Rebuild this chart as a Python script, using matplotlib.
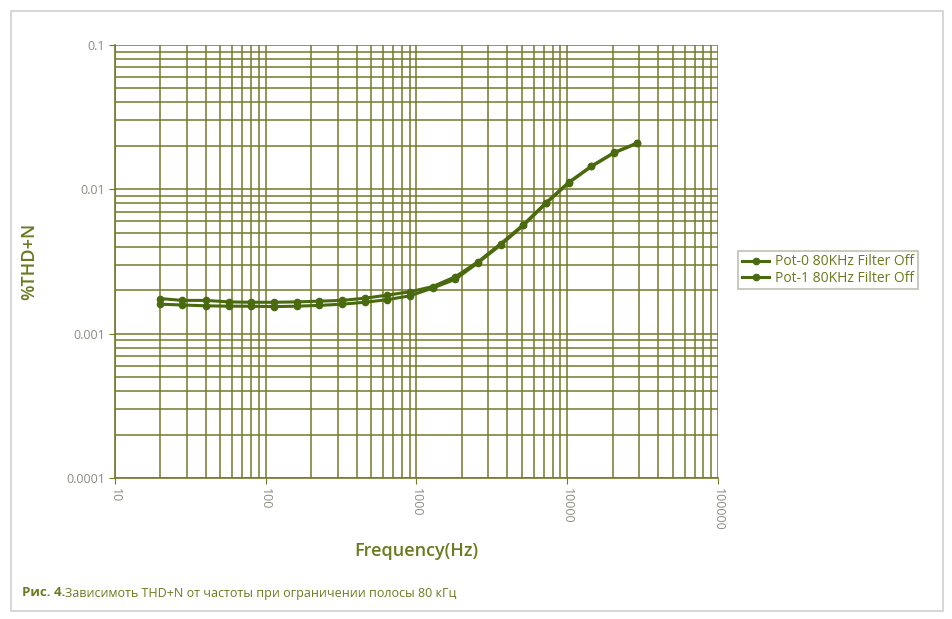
import matplotlib
matplotlib.use("Agg")
import matplotlib.pyplot as plt
from matplotlib.patches import Rectangle
from matplotlib.ticker import LogLocator, FixedLocator, NullFormatter

plt.rcParams["font.family"] = ["Open Sans", "DejaVu Sans"]

# frequency sweep points (Hz)
freq = [20, 28, 40, 57, 80, 113, 160, 226, 320, 453, 640, 905,
        1280, 1810, 2560, 3620, 5120, 7240, 10240, 14480, 20480, 28960]

# %THD+N readings
pot0 = [0.00175, 0.0017, 0.0017, 0.00166, 0.00165, 0.00165, 0.00166, 0.00168,
        0.0017, 0.00176, 0.00185, 0.00195, 0.00212, 0.00248, 0.00315, 0.0042,
        0.0057, 0.0081, 0.0112, 0.0145, 0.0180, 0.0209]
pot1 = [0.0016, 0.00158, 0.00156, 0.00155, 0.00155, 0.00154, 0.00155, 0.00157,
        0.0016, 0.00165, 0.00172, 0.00183, 0.00207, 0.00238, 0.0031, 0.00412,
        0.00562, 0.008, 0.0111, 0.0144, 0.0179, 0.0208]

series_labels = ["Pot-0 80KHz Filter Off", "Pot-1 80KHz Filter Off"]
x_ticks = [10, 100, 1000, 10000, 100000]
x_tick_labels = ["10", "100", "1000", "10000", "100000"]
y_ticks = [0.0001, 0.001, 0.01, 0.1]
y_tick_labels = ["0.0001", "0.001", "0.01", "0.1"]

GRID = "#74792a"
LINE = "#4a6a10"
TEXT = "#6a7a1e"
TICK = "#8c8c80"

fig = plt.figure(figsize=(9.53, 6.19), dpi=100)
ax = fig.add_axes([115 / 953, 1 - 478 / 619, 603 / 953, 433 / 619])

ax.plot(freq, pot0, color=LINE, lw=2.2, marker="o", ms=4.5, label=series_labels[0])
ax.plot(freq, pot1, color=LINE, lw=2.2, marker="o", ms=4.5, label=series_labels[1])

ax.set_xscale("log")
ax.set_yscale("log")
ax.set_xlim(10, 100000)
ax.set_ylim(0.0001, 0.1)

ax.xaxis.set_major_locator(FixedLocator(x_ticks))
ax.yaxis.set_major_locator(FixedLocator(y_ticks))
ax.set_xticklabels(x_tick_labels, rotation=-90, color=TICK, fontsize=9)
ax.set_yticklabels(y_tick_labels, color=TICK, fontsize=9)
ax.xaxis.set_minor_locator(LogLocator(base=10, subs=range(2, 10), numticks=20))
ax.yaxis.set_minor_locator(LogLocator(base=10, subs=range(2, 10), numticks=20))
ax.xaxis.set_minor_formatter(NullFormatter())
ax.yaxis.set_minor_formatter(NullFormatter())
ax.tick_params(which="minor", length=0)
ax.tick_params(which="major", length=4, color=GRID, pad=3)

ax.grid(True, which="both", color=GRID, lw=1.1)
ax.set_axisbelow(True)
for side in ["top", "right"]:
    ax.spines[side].set_visible(False)
for side in ["left", "bottom"]:
    ax.spines[side].set_color(GRID)
    ax.spines[side].set_linewidth(1.2)

ax.set_xlabel("Frequency(Hz)", color=TEXT, fontsize=13, fontweight="semibold",
              labelpad=8)
ax.set_ylabel("%THD+N", color=TEXT, fontsize=13, fontweight="semibold",
              labelpad=20)

leg = ax.legend(loc="center left", bbox_to_anchor=(1.022, 0.48), fontsize=10,
                frameon=True, fancybox=False, handlelength=2.0,
                borderpad=0.25, labelspacing=0.1, handletextpad=0.4)
leg.get_frame().set_edgecolor("#b0b0a0")
leg.get_frame().set_linewidth(1.2)
for t in leg.get_texts():
    t.set_color(TEXT)

# outer frame
fig.patches.append(Rectangle((11 / 953, 8 / 619), 932 / 953, 600 / 619,
                             transform=fig.transFigure, fill=False,
                             edgecolor="#d0d0d0", lw=1.2))

cap = fig.text(22 / 953, 1 - 593 / 619, "Рис. 4.", color=TEXT,
               fontsize=9.5, fontweight="bold", va="center")
fig.canvas.draw()
ax.annotate("Зависимоть THD+N от частоты при ограничении полосы 80 кГц",
            xy=(1, 0.5), xycoords=cap, va="center", ha="left",
            color=TEXT, fontsize=9, annotation_clip=False)

fig.savefig("out.png", dpi=100)
plt.close()
